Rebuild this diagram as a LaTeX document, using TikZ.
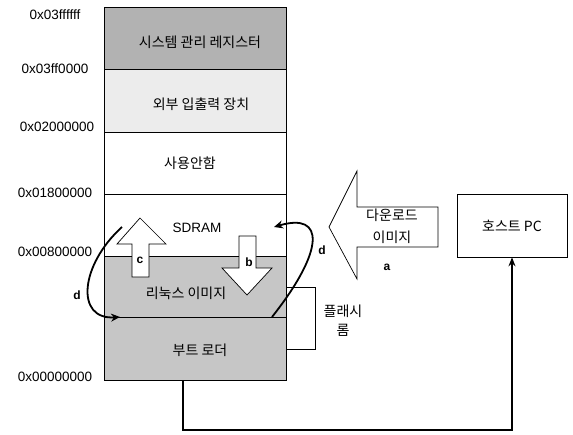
\documentclass[tikz,border=0pt]{standalone}
\usepackage{fontspec}
\setmainfont{Liberation Sans}
\newfontfamily\kr{Noto Sans CJK KR}
\usetikzlibrary{arrows.meta}
\begin{document}
\begin{tikzpicture}[x=1pt,y=-1pt,
  row/.style={draw=black, line width=0.6pt, minimum width=182pt, inner sep=0pt, outer sep=0pt, anchor=north west},
  kt/.style={font=\kr\fontsize{14}{22}\selectfont, inner sep=0pt, align=center},
  hex/.style={font=\fontsize{13.5}{15}\selectfont, inner sep=0pt},
  lab/.style={font=\bfseries\fontsize{12}{14}\selectfont, inner sep=0pt},
  blk/.style={draw=black, line width=0.7pt, fill=white, line join=miter},
  curv/.style={line width=1.8pt, -{Stealth[length=9pt,width=8pt]}},
]
\useasboundingbox (0,0) rectangle (573,434);
% memory map rows
\node[row, fill=gray!60, minimum height=62pt] (sys) at (104,7) {};
\node[row, fill=gray!15, minimum height=63pt] (io) at (104,69) {};
\node[row, fill=white, minimum height=62pt] (unused) at (104,132) {};
\node[row, fill=white, minimum height=62pt] (sdram) at (104,194) {};
\node[row, fill=gray!45, minimum height=61pt] (linux) at (104,256) {};
\node[row, fill=gray!45, minimum height=63pt] (boot) at (104,317) {};
% flash ROM bracket box
\node[draw, line width=0.6pt, minimum width=29pt, minimum height=62pt, inner sep=0pt, anchor=north west] (flash) at (286,287) {};
\node[kt, font=\kr\fontsize{14}{19}\selectfont] (flashlab) at (343,321) {플래시\\롬};
% row texts
\node[kt] (tsys) at (200,42) {시스템 관리 레지스터};
\node[kt] (tio) at (201,104) {외부 입출력 장치};
\node[kt] (tunused) at (190,163) {사용안함};
\node[font=\fontsize{13.5}{15}\selectfont, inner sep=0pt] (tsdram) at (197,228) {SDRAM};
\node[kt] (tlinux) at (186,293) {리눅스 이미지};
\node[kt] (tboot) at (200,350) {부트 로더};
% address labels
\node[hex] (h1) at (55,15) {0x03ffffff};
\node[hex] (h2) at (55,69) {0x03ff0000};
\node[hex] (h3) at (57,127) {0x02000000};
\node[hex] (h4) at (55,193) {0x01800000};
\node[hex] (h5) at (55,252) {0x00800000};
\node[hex] (h6) at (55,377) {0x00000000};
% host PC
\node[draw, line width=0.6pt, minimum width=110pt, minimum height=63pt, kt] (pc) at (512,225.5) {호스트 PC};
% download image block arrow
\draw[blk] (329,227) -- (357,171) -- (357,207) -- (438,207) -- (438,247) -- (357,247) -- (357,279) -- cycle;
\node[kt] (dl) at (392,226) {다운로드\\이미지};
\node[lab] (la) at (387,267) {a};
% arrow c (up)
\draw[blk] (140,218) -- (166,244) -- (149,244) -- (149,277) -- (132,277) -- (132,244) -- (117,244) -- cycle;
\node[lab] (lc) at (140,260) {c};
% arrow b (down)
\draw[blk] (239,236) -- (256,236) -- (256,268) -- (272,268) -- (247,295) -- (222,268) -- (239,268) -- cycle;
\node[lab] (lb) at (249,262) {b};
% curved arrows d
\coordinate (dRs) at (272,317);
\coordinate (dRe) at (274,227);
\coordinate (dLs) at (122,227);
\coordinate (dLe) at (120,317);
\draw[curv] (dRs) .. controls (325,250) and (325,212) .. (dRe);
\draw[curv] (dLs) .. controls (80,265) and (75,320) .. (dLe);
\node[lab] (ldr) at (322,250) {d};
\node[lab] (ldl) at (77,295) {d};
% boot loader to host PC
\draw[line width=1.3pt, -{Stealth[length=9pt,width=7pt]}] ([xshift=-12pt]boot.south) -- ++(0,50) -| (pc.south);
\end{tikzpicture}
\end{document}
